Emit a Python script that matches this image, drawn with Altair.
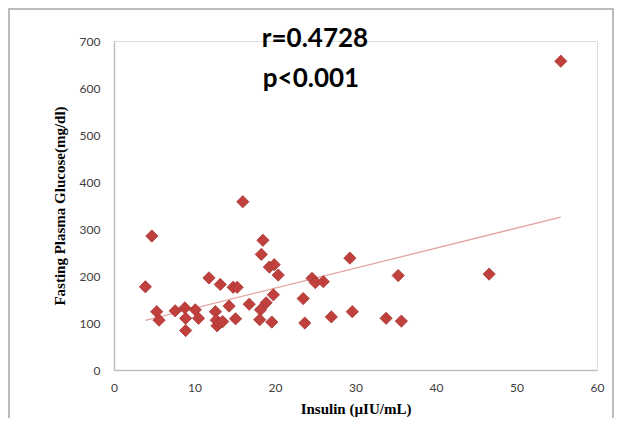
import altair as alt
import pandas as pd

insulin = [3.9, 4.7, 5.3, 5.6, 7.6, 8.8, 8.9, 8.9, 10.1, 10.5, 11.8, 12.6, 12.7, 12.8,
           13.1, 13.2, 13.5, 14.3, 14.8, 15.3, 15.1, 16.0, 16.8, 18.5, 18.3, 18.2,
           18.9, 18.1, 19.3, 19.9, 20.4, 19.8, 19.6, 23.5, 23.7, 24.6, 25.0, 26.0,
           27.0, 29.3, 29.6, 33.8, 35.3, 35.7, 46.6, 55.5]
glucose = [177, 285, 124, 106, 126, 132, 110, 84, 128, 110, 196, 124, 106, 94,
           100, 182, 103, 136, 176, 176, 109, 358, 140, 276, 246, 128,
           143, 107, 219, 224, 202, 160, 102, 152, 100, 195, 186, 188,
           113, 238, 124, 110, 201, 104, 204, 657]

x_ticks = [0, 10, 20, 30, 40, 50, 60]
y_ticks = [0, 100, 200, 300, 400, 500, 600, 700]
annot = ["r=0.4728", "p<0.001"]

df = pd.DataFrame({"Insulin": insulin, "Glucose": glucose})

W, H = 483, 329
axis_color = "#BFBFBF"
label_font = "Lato"
title_font = "Liberation Serif"

xs = alt.X("Insulin:Q", scale=alt.Scale(domain=[0, 60], nice=False),
           axis=alt.Axis(values=x_ticks, title="Insulin (µIU/mL)", grid=False,
                         ticks=False, domainColor=axis_color, domainWidth=1.5,
                         labelFlush=False, labelOverlap=False,
                         labelFont=label_font, labelFontSize=12, labelColor="#404040",
                         labelPadding=12, titleFont=title_font, titleFontSize=15,
                         titleFontWeight="bold", titleColor="#000000", titlePadding=8))
ys = alt.Y("Glucose:Q", scale=alt.Scale(domain=[0, 700], nice=False),
           axis=alt.Axis(values=y_ticks, title="Fasting Plasma Glucose(mg/dl)", grid=False,
                         ticks=False, domainColor=axis_color, domainWidth=1.5,
                         labelFlush=False, labelOverlap=False,
                         labelFont=label_font, labelFontSize=12, labelColor="#404040",
                         labelPadding=14, titleFont=title_font, titleFontSize=15,
                         titleFontWeight="bold", titleColor="#000000", titlePadding=12))

base = alt.Chart(df)

points = base.mark_point(shape="diamond", filled=True, size=150, color="#C0403D",
                         stroke="#A83532", strokeWidth=0.8, opacity=1).encode(x=xs, y=ys)

trend = base.transform_regression("Insulin", "Glucose").mark_line(
    color="#E3A4A2", strokeWidth=1.3).encode(x="Insulin:Q", y="Glucose:Q")

adf = pd.DataFrame({"t": annot, "row": [0, 1]})
text_style = dict(font=label_font, fontSize=26, fontWeight="bold",
                  color="#000000", align="center", baseline="middle")
t1 = alt.Chart(adf).transform_filter("datum.row == 0").mark_text(**text_style).encode(
    text="t:N", x=alt.value(201), y=alt.value(-2))
t2 = alt.Chart(adf).transform_filter("datum.row == 1").mark_text(**text_style).encode(
    text="t:N", x=alt.value(197), y=alt.value(38))

frame = alt.Chart(pd.DataFrame({"a": [0]})).mark_rect(
    fill=None, stroke="#A6A6A6", strokeWidth=1.5).encode(
    x=alt.value(-105), x2=alt.value(499), y=alt.value(-32), y2=alt.value(400))

chart = alt.layer(frame, trend, points, t1, t2).properties(
    width=W, height=H,
    autosize=alt.AutoSizeParams(type="none"),
    padding={"left": 106, "top": 33, "right": 17, "bottom": 48},
).configure_view(stroke=None).configure(background="white")

chart.save("out.html", embed_options={"renderer": "svg", "actions": False})
